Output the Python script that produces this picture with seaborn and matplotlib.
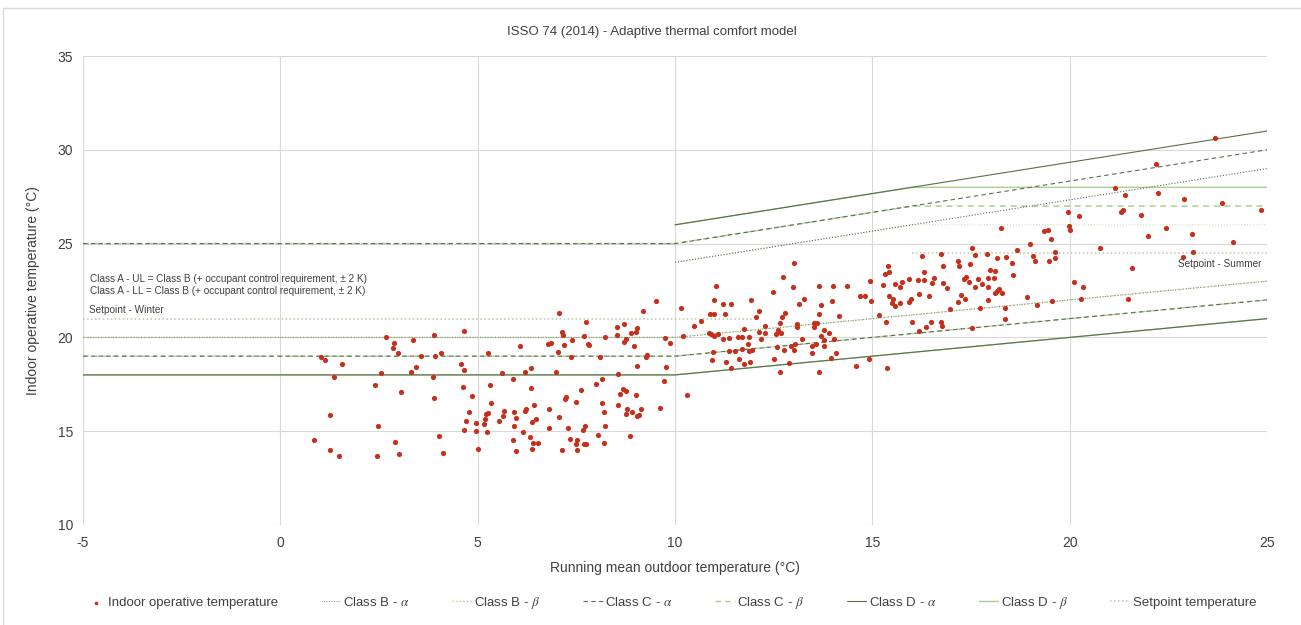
import seaborn as sns
import matplotlib.pyplot as plt
from matplotlib.patches import Rectangle

# Grafik verileri (okunan degerler)
outdoor_temp = [
    2.69, 2.89, 2.85, 2.98, 3.35, 3.89, 4.65, 1.02, 1.13, 1.57, 3.56, 3.93, 4.08, 3.43, 3.30, 2.55, 1.35,
    2.41, 3.88, 4.57, 4.66, 5.27, 3.06, 3.89, 4.64, 4.86, 5.31, 5.33, 1.25, 4.77, 5.25, 5.20, 4.70, 4.96,
    5.18, 5.16, 2.47, 4.66, 4.96, 5.24, 0.86, 4.03, 2.90, 1.27, 1.49, 2.45, 3.01, 4.11, 5.02,
    9.53, 9.20, 7.07, 7.74, 8.71, 8.52, 9.03, 7.14, 7.17, 8.89, 9.01, 8.53, 7.70, 8.23, 8.75, 8.72, 9.75,
    9.87, 7.38, 6.87, 6.79, 6.07, 7.19, 7.79, 7.83, 8.96, 7.03, 7.36, 8.11, 9.28, 9.26, 9.03, 9.77, 6.36,
    6.19, 5.62, 6.99, 8.55, 5.89, 8.16, 9.72, 8.00, 6.35, 7.62, 8.68, 8.75, 8.61, 9.00, 7.25, 7.21, 7.49,
    8.14, 8.56, 6.43, 5.67, 5.92, 6.22, 6.19, 6.81, 8.19, 8.78, 8.76, 8.92, 9.03, 9.08, 9.15, 9.61, 5.64,
    5.97, 6.47, 5.55, 6.37, 7.07, 5.92, 8.23, 7.72, 6.81, 7.30, 7.67, 6.14, 8.06, 6.33, 8.86, 5.89, 7.34,
    7.52, 6.40, 6.54, 7.50, 7.70, 7.75, 8.21, 5.98, 6.38, 7.14, 7.52,
    12.74, 11.04, 13.00, 13.65, 14.00, 14.36, 14.93, 14.70, 14.81, 14.97, 12.48, 10.98, 11.92, 13.26,
    13.98, 11.21, 11.42, 13.14, 13.71, 10.16, 10.89, 11.00, 11.27, 12.14, 12.79, 13.65, 14.16, 15.16,
    12.05, 12.71, 10.67, 12.65, 13.09, 13.10, 13.51, 13.60, 13.53, 12.29, 10.49, 13.77, 11.74, 12.62,
    12.13, 12.28, 12.68, 12.55, 13.89, 10.85, 10.92, 10.98, 11.08, 10.21, 13.70, 11.22, 11.37, 11.60,
    11.69, 11.87, 12.17, 13.23, 13.77, 14.04, 11.84, 13.05, 13.56, 12.94, 13.47, 12.59, 13.78, 10.96,
    11.37, 11.51, 11.69, 11.87, 11.96, 12.77, 13.02, 13.48, 14.07, 10.94, 11.28, 11.61, 11.74, 11.91,
    12.51, 12.90, 13.96, 14.92, 11.42, 14.58, 12.66, 13.65, 10.31, 13.01,
    18.27, 19.35, 19.44, 19.52, 18.99, 17.53, 18.66, 19.64, 16.75, 17.90, 16.26, 17.60, 18.16, 18.38,
    19.06, 19.13, 19.48, 19.63, 17.18, 18.54, 17.47, 17.20, 15.40, 16.79, 17.99, 18.12, 15.32, 15.43,
    16.30, 18.57, 15.94, 16.16, 16.31, 16.56, 17.33, 17.38, 17.69, 17.94, 18.08, 15.74, 15.57, 16.51,
    16.78, 17.45, 17.78, 15.26, 15.71, 16.89, 17.60, 17.93, 18.21, 18.15, 18.11, 18.28, 17.25, 16.19,
    16.44, 15.41, 15.53, 15.50, 15.57, 15.70, 15.94, 15.99, 17.36, 17.18, 17.92, 18.92, 19.54, 19.18,
    16.97, 17.72, 18.35, 18.35, 15.34, 16.00, 16.37, 16.48, 16.73, 16.76, 17.53, 16.17, 15.37,
    23.67, 22.18, 21.14, 22.24, 21.41, 22.89, 23.85, 24.85, 19.95, 20.23, 21.36, 21.30, 21.82, 19.98,
    20.00, 22.44, 21.99, 23.10, 24.14, 20.77, 23.13, 22.87, 21.59, 20.11, 20.34, 20.28, 21.49,
]
indoor_temp = [
    20.04, 19.69, 19.43, 19.15, 19.86, 20.13, 20.36, 18.94, 18.80, 18.57, 18.99, 19.02, 19.15, 18.41,
    18.16, 18.09, 17.87, 17.45, 17.91, 18.60, 18.28, 19.18, 17.09, 16.77, 17.36, 16.88, 17.45, 16.52,
    15.86, 16.04, 15.99, 15.92, 15.53, 15.42, 15.63, 15.37, 15.29, 15.05, 15.03, 14.97, 14.53, 14.74,
    14.41, 14.00, 13.68, 13.68, 13.80, 13.85, 14.05,
    21.94, 21.42, 21.32, 20.80, 20.73, 20.54, 20.50, 20.29, 20.13, 20.23, 20.29, 20.13, 20.06, 20.02,
    19.93, 19.77, 19.98, 19.72, 19.88, 19.69, 19.63, 19.56, 19.58, 19.66, 19.59, 19.54, 19.22, 18.94,
    18.94, 19.05, 18.94, 18.49, 18.44, 18.39, 18.16, 18.10, 18.17, 18.05, 17.78, 17.77, 17.68, 17.50,
    17.30, 17.20, 17.27, 17.16, 16.98, 16.95, 16.81, 16.73, 16.57, 16.50, 16.41, 16.41, 16.09, 16.02,
    16.18, 16.08, 16.18, 16.02, 16.18, 15.92, 16.01, 15.83, 15.85, 16.20, 16.22, 15.79, 15.72, 15.65,
    15.54, 15.49, 15.77, 15.29, 15.29, 15.29, 15.17, 15.17, 15.05, 14.96, 14.81, 14.71, 14.74, 14.53,
    14.60, 14.53, 14.35, 14.35, 14.32, 14.32, 14.33, 14.39, 13.96, 14.05, 13.98, 13.98,
    23.20, 22.72, 22.69, 22.72, 22.76, 22.72, 23.01, 22.22, 22.21, 21.92, 22.40, 22.01, 22.01, 22.05,
    21.94, 21.78, 21.78, 21.78, 21.74, 21.55, 21.26, 21.23, 21.23, 21.39, 21.30, 21.26, 21.16, 21.21,
    21.09, 21.09, 20.87, 20.75, 20.73, 20.55, 20.77, 20.75, 20.55, 20.63, 20.59, 20.41, 20.43, 20.38,
    20.29, 20.25, 20.25, 20.20, 20.25, 20.25, 20.20, 20.09, 20.20, 20.09, 20.09, 19.91, 19.98, 20.02,
    20.04, 20.01, 19.91, 19.93, 19.88, 19.93, 19.65, 19.66, 19.66, 19.52, 19.56, 19.49, 19.54, 19.22,
    19.29, 19.29, 19.37, 19.28, 19.33, 19.35, 19.33, 19.18, 19.17, 18.78, 18.69, 18.83, 18.60, 18.70,
    18.83, 18.64, 18.89, 18.85, 18.37, 18.46, 18.14, 18.14, 16.95, 23.97,
    25.82, 25.69, 25.74, 25.26, 24.98, 24.75, 24.68, 24.55, 24.45, 24.45, 24.34, 24.39, 24.25, 24.29,
    24.32, 24.06, 24.06, 24.23, 24.09, 23.97, 23.90, 23.82, 23.81, 23.81, 23.59, 23.56, 23.38, 23.47,
    23.47, 23.34, 23.11, 23.08, 23.04, 23.17, 23.13, 23.20, 23.13, 23.15, 23.15, 22.97, 22.85, 22.92,
    22.90, 22.97, 22.86, 22.78, 22.70, 22.63, 22.67, 22.69, 22.56, 22.49, 22.35, 22.35, 22.28, 22.33,
    22.19, 22.22, 22.05, 21.85, 21.69, 21.85, 21.89, 22.03, 22.05, 21.89, 21.99, 22.14, 21.96, 21.73,
    21.53, 21.57, 21.57, 20.98, 20.80, 20.80, 20.57, 20.80, 20.84, 20.62, 20.50, 20.34, 18.39,
    30.65, 29.26, 27.96, 27.71, 27.59, 27.39, 27.15, 26.81, 26.70, 26.47, 26.81, 26.67, 26.52, 25.94,
    25.72, 25.81, 25.42, 25.49, 25.07, 24.77, 24.57, 24.30, 23.72, 22.94, 22.70, 22.05, 22.05,
]

# Grenslijnen (Trm, temperatuur)
b_alpha_upper_x = [10, 25]
b_alpha_upper_y = [24, 29]
c_alpha_upper_x = [-5, 10, 25]
c_alpha_upper_y = [25, 25, 30]
d_alpha_upper_x = [10, 25]
d_alpha_upper_y = [26, 31]

b_beta_upper_x = [10, 16, 25]
b_beta_upper_y = [24, 26, 26]
c_beta_upper_x = [-5, 10, 16, 25]
c_beta_upper_y = [25, 25, 27, 27]
d_beta_upper_x = [10, 16, 25]
d_beta_upper_y = [26, 28, 28]

lower_x = [-5, 10, 25]
b_lower_y = [20, 20, 23]
c_lower_y = [19, 19, 22]
d_lower_y = [18, 18, 21]

winter_x = [-5, 12]
winter_y = [21, 21]
summer_x = [16, 25]
summer_y = [24.5, 24.5]

sns.set_style('white')
plt.rcParams['font.family'] = ['Liberation Sans', 'DejaVu Sans']
plt.rcParams['mathtext.fontset'] = 'stix'
plt.rcParams['axes.unicode_minus'] = False

txt = '#404040'
dark = '#5b6f4b'
light = '#a9d08e'
sp_col = '#b9c9aa'
dot = (0, (1, 1.6))
dash = (0, (4, 3))

fig = plt.figure(figsize=(13.01, 6.25), dpi=100)
ax = fig.add_axes([83 / 1301, 1 - 525 / 625, (1267 - 83) / 1301, (525 - 56) / 625])

# beta lijnen eerst (licht groen), alpha erover
ax.plot(b_beta_upper_x, b_beta_upper_y, color=light, lw=0.8, ls=dot, alpha=0.6)
ax.plot(lower_x, b_lower_y, color=light, lw=1.0, ls=dot, label='Class B - $\\beta$')
ax.plot(c_beta_upper_x, c_beta_upper_y, color=light, lw=1.1, ls=dash)
ax.plot(lower_x, c_lower_y, color=light, lw=1.0, ls=dash, label='Class C - $\\beta$')
ax.plot(d_beta_upper_x, d_beta_upper_y, color=light, lw=1.0, ls='-')
ax.plot(lower_x, d_lower_y, color=light, lw=1.0, ls='-', label='Class D - $\\beta$')

ax.plot(b_alpha_upper_x, b_alpha_upper_y, color=dark, lw=0.8, ls=dot)
ax.plot(lower_x, b_lower_y, color=dark, lw=0.7, ls=dot, alpha=0.7, label='Class B - $\\alpha$')
ax.plot(c_alpha_upper_x, c_alpha_upper_y, color=dark, lw=0.8, ls=dash)
ax.plot(lower_x, c_lower_y, color=dark, lw=0.8, ls=dash, label='Class C - $\\alpha$')
ax.plot(d_alpha_upper_x, d_alpha_upper_y, color=dark, lw=0.8, ls='-')
ax.plot(lower_x, d_lower_y, color=dark, lw=0.8, ls='-', label='Class D - $\\alpha$')

ax.plot(winter_x, winter_y, color=sp_col, lw=1.1, ls=dot, label='Setpoint temperature')
ax.plot(summer_x, summer_y, color=sp_col, lw=1.1, ls=dot)

sns.scatterplot(x=outdoor_temp, y=indoor_temp, ax=ax, color='#c4301c', s=14, linewidth=0,
                label='Indoor operative temperature', zorder=5)

ax.set_xlim(-5, 25)
ax.set_ylim(10, 35)
ax.set_xticks(range(-5, 26, 5))
ax.set_yticks(range(10, 36, 5))
ax.grid(True, color='#d9d9d9', lw=0.8)
ax.set_axisbelow(True)
for s in ax.spines.values():
    s.set_visible(False)
ax.tick_params(length=0, labelsize=10, labelcolor=txt)
ax.tick_params(axis='x', pad=8)
ax.tick_params(axis='y', pad=7)

ax.set_xlabel('Running mean outdoor temperature (°C)', fontsize=10, color=txt)
ax.set_ylabel('Indoor operative temperature (°C)', fontsize=10, color=txt)
ax.xaxis.set_label_coords(0.5, -0.092)
ax.xaxis.label.set_va('center')
ax.yaxis.set_label_coords(-0.042, 0.5)
ax.yaxis.label.set_va('center')

fig.text(652 / 1301, 1 - 32 / 625, 'ISSO 74 (2014) - Adaptive thermal comfort model',
         ha='center', va='center', fontsize=9.5, color=txt)

ax.text(-4.82, 23.11, 'Class A - UL = Class B (+ occupant control requirement, ± 2 K)',
        fontsize=7.2, color=txt, va='center')
ax.text(-4.82, 22.47, 'Class A - LL = Class B (+ occupant control requirement, ± 2 K)',
        fontsize=7.2, color=txt, va='center')
ax.text(-4.85, 21.46, 'Setpoint - Winter', fontsize=7.2, color=txt, va='center')
ax.text(24.87, 23.91, 'Setpoint - Summer', fontsize=7.2, color=txt, va='center', ha='right')

# legenda
handles, labels = ax.get_legend_handles_labels()
ax.get_legend().remove()
order = ['Indoor operative temperature', 'Class B - $\\alpha$', 'Class B - $\\beta$',
         'Class C - $\\alpha$', 'Class C - $\\beta$', 'Class D - $\\alpha$',
         'Class D - $\\beta$', 'Setpoint temperature']
hmap = dict(zip(labels, handles))
leg = fig.legend([hmap[l] for l in order], order, loc='center', ncol=8,
                 bbox_to_anchor=(671 / 1301, 1 - 603 / 625), frameon=False, fontsize=9.5,
                 handlelength=1.5, handletextpad=0.2, columnspacing=3.2, markerscale=0.7)
for t in leg.get_texts():
    t.set_color(txt)

# grafiekrand
fig.add_artist(Rectangle((3 / 1301, -0.02), 1.0, 1 - 8 / 625 + 0.02, transform=fig.transFigure,
                         fill=False, edgecolor='#d9d9d9', lw=1))

plt.savefig('out.png', dpi=100)
